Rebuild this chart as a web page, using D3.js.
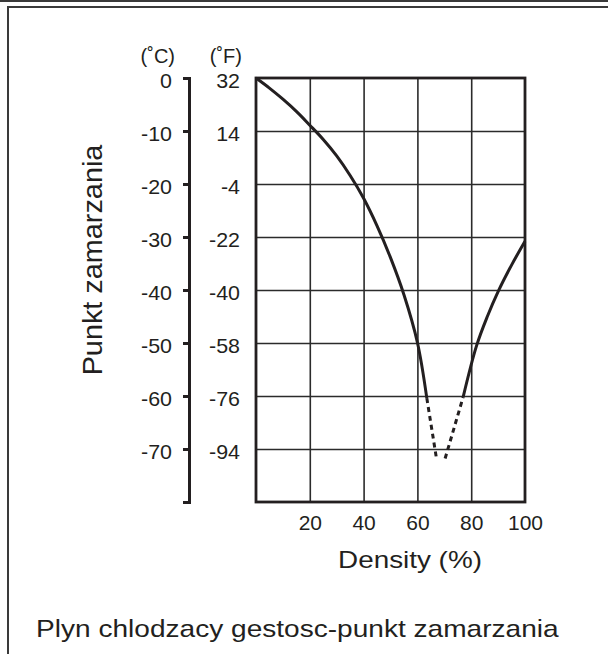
<!DOCTYPE html>
<html>
<head>
<meta charset="utf-8">
<script src="https://cdn.jsdelivr.net/npm/d3@7"></script>
<style>
  body { margin: 0; background: #fff; }
  svg { display: block; }
  text { font-family: "Liberation Sans", Arial, Helvetica, sans-serif; fill: #231f20; }
</style>
</head>
<body>
<svg id="chart" width="608" height="654"></svg>
<script>
// Axis ticks
const densityTicks = [20, 40, 60, 80, 100];
const celsiusTicks = [0, -10, -20, -30, -40, -50, -60, -70];
const fahrenheitTicks = [32, 14, -4, -22, -40, -58, -76, -94];
const gridDensity = [20, 40, 60, 80];
const gridCelsius = [-10, -20, -30, -40, -50, -60, -70];

// Freezing point (°C) against coolant density (%)
const lowBranch = [[0, 0], [5, -1.9], [10, -4.0], [15, -6.3], [20, -8.9], [25, -11.6], [30, -14.7],
  [35, -18.4], [40, -22.7], [45, -27.9], [50, -33.9], [55, -40.9], [60, -49.9], [63.5, -60.4]];
const lowDashed = [[63.5, -60.4], [67, -71.5]];
const highDashed = [[70.3, -71.8], [77, -60.2]];
const highBranch = [[77, -60.2], [82, -50.5], [86, -45], [90, -40.3], [95, -35.3], [100, -30.8]];

const ink = "#231f20";
const plain = d => `${d}`;   // hyphen-minus, as printed
const svg = d3.select("#chart");

// page frame
svg.append("line").attr("x1", 0).attr("x2", 608).attr("y1", 1).attr("y2", 1)
  .attr("stroke", "#3a3a3a").attr("stroke-width", 2);
svg.append("line").attr("x1", 8).attr("x2", 608).attr("y1", 7).attr("y2", 7)
  .attr("stroke", "#3a3a3a").attr("stroke-width", 2);
svg.append("line").attr("x1", 8).attr("x2", 8).attr("y1", 6).attr("y2", 654)
  .attr("stroke", "#3a3a3a").attr("stroke-width", 2);

const x = d3.scaleLinear().domain([0, 100]).range([256, 525]);
const yC = d3.scaleLinear().domain([0, -80]).range([78, 502]);
const yF = d3.scaleLinear().domain([32, -112]).range([78, 502]);

// stretch glyphs horizontally around their anchor
function stretch(sel, k) {
  sel.each(function () {
    const t = d3.select(this);
    const tx = +t.attr("x") || 0, ty = +t.attr("y") || 0;
    t.attr("x", 0).attr("y", 0).attr("transform", `translate(${tx},${ty}) scale(${k},1)`);
  });
}

// grid
const gridH = svg.append("g").attr("transform", `translate(${x(0)},0)`)
  .call(d3.axisLeft(yC).tickValues(gridCelsius).tickSize(-(x(100) - x(0))).tickFormat(""));
const gridV = svg.append("g").attr("transform", `translate(0,${yC(-80)})`)
  .call(d3.axisBottom(x).tickValues(gridDensity).tickSize(-(yC(-80) - yC(0))).tickFormat(""));
[gridH, gridV].forEach(g => {
  g.select(".domain").remove();
  g.selectAll(".tick line").attr("stroke", "#2b2b2b").attr("stroke-width", 1.6);
});

// plot border
svg.append("rect").attr("x", x(0)).attr("y", yC(0))
  .attr("width", x(100) - x(0)).attr("height", yC(-80) - yC(0))
  .attr("fill", "none").attr("stroke", ink).attr("stroke-width", 2.8);

// Celsius axis
const axC = svg.append("g").attr("transform", "translate(189,0)")
  .call(d3.axisLeft(yC).tickValues(celsiusTicks).tickFormat(plain)
    .tickSize(6).tickSizeOuter(6).tickPadding(11));
axC.select(".domain").attr("stroke", ink).attr("stroke-width", 3);
axC.selectAll(".tick line").attr("stroke", ink).attr("stroke-width", 3);
axC.selectAll(".tick text").attr("font-size", 21).attr("fill", ink).attr("dy", "0.46em")
  .call(stretch, 1.02);

// Fahrenheit labels
const axF = svg.append("g").attr("transform", "translate(240,0)")
  .call(d3.axisLeft(yF).tickValues(fahrenheitTicks).tickFormat(plain).tickSize(0).tickPadding(0));
axF.select(".domain").remove();
axF.selectAll(".tick text").attr("font-size", 21).attr("fill", ink).attr("dy", "0.46em")
  .call(stretch, 1.02);

// density labels
const axX = svg.append("g").attr("transform", `translate(0,${yC(-80)})`)
  .call(d3.axisBottom(x).tickValues(densityTicks).tickFormat(plain).tickSize(0).tickPadding(13));
axX.select(".domain").remove();
axX.selectAll(".tick text").attr("font-size", 21).attr("fill", ink).call(stretch, 1.0);

// unit headers
svg.append("text").attr("x", 175).attr("y", 63).attr("text-anchor", "end")
  .attr("font-size", 20).text("(˚C)");
svg.append("text").attr("x", 242).attr("y", 63).attr("text-anchor", "end")
  .attr("font-size", 20).text("(˚F)");

// curve
const line = d3.line().x(d => x(d[0])).y(d => yC(d[1])).curve(d3.curveCatmullRom.alpha(0.5));
const curves = svg.append("g").attr("fill", "none").attr("stroke", ink)
  .attr("stroke-width", 3).attr("stroke-linecap", "butt");
curves.append("path").attr("d", line(lowBranch));
curves.append("path").attr("d", line(highBranch));
curves.append("path").attr("d", line(lowDashed)).attr("stroke-dasharray", "5,4");
curves.append("path").attr("d", line(highDashed)).attr("stroke-dasharray", "5,4");

// axis titles
svg.append("text").attr("text-anchor", "middle").attr("font-size", 28)
  .attr("transform", "translate(102,260) rotate(-90) scale(1.03,1)")
  .text("Punkt zamarzania");
svg.append("text").attr("text-anchor", "middle").attr("font-size", 24)
  .attr("transform", "translate(410,568) scale(1.16,1)")
  .text("Density (%)");

// caption
svg.append("text").attr("font-size", 24)
  .attr("transform", "translate(36,637) scale(1.17,1)")
  .text("Plyn chlodzacy gestosc-punkt zamarzania");
</script>
</body>
</html>
